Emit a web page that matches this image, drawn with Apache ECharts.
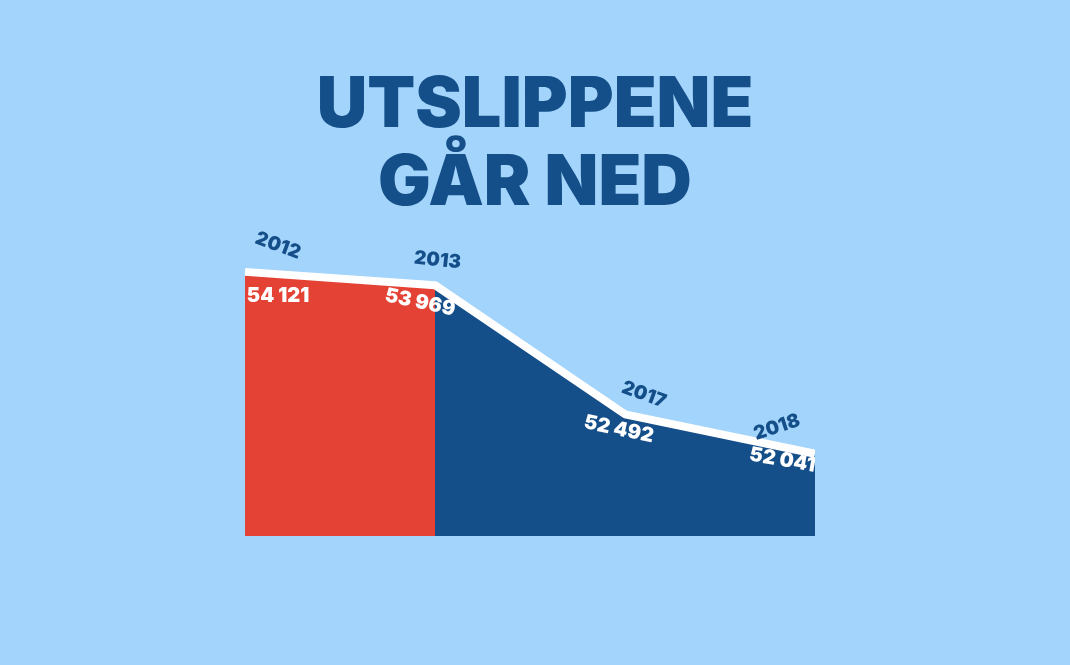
<!DOCTYPE html>
<html><head><meta charset="utf-8">
<script src="https://cdn.jsdelivr.net/npm/echarts@6/dist/echarts.min.js"></script>
<style>html,body{margin:0;padding:0;background:#a3d4fb;}#c{width:1070px;height:665px;}</style>
</head><body><div id="c"></div>
<script>
const years = ['2012', '2013', '2017', '2018'];
const emissions = [54121, 53969, 52492, 52041];
const valueLabels = ['54 121', '53 969', '52 492', '52 041'];
const redUntil = 1; // index where red part ends

// label styling (offsets / rotation), kept separate from data
const yearLabelStyle = [
  {offset: [22, -36], rotate: -20},
  {offset: [0, -25], rotate: -6},
  {offset: [11, -25], rotate: -20},
  {offset: [-28, -37], rotate: 18}
];
const valueLabelStyle = [
  {offset: [33, 24], rotate: 0},
  {offset: [-11, 20], rotate: -12},
  {offset: [-3, 16], rotate: -12},
  {offset: [-31, 12], rotate: -10}
];

const redData = emissions.map((v, i) => i <= redUntil ? v : '-');
const blueData = emissions.map((v, i) => i >= redUntil ? v : '-');

const font = 'Inter, Lato, sans-serif';
const yearPoints = emissions.map((v, i) => ({
  value: v,
  label: {show: true, formatter: years[i], position: 'inside', offset: yearLabelStyle[i].offset,
    rotate: yearLabelStyle[i].rotate, color: '#154f8a', fontSize: 19, fontWeight: 900, fontFamily: font}
}));
const valuePoints = emissions.map((v, i) => ({
  value: v,
  label: {show: true, formatter: valueLabels[i], position: 'inside', offset: valueLabelStyle[i].offset,
    rotate: valueLabelStyle[i].rotate, color: '#ffffff', fontSize: 20, fontWeight: 900, fontFamily: font}
}));

const chart = echarts.init(document.getElementById('c'));
chart.setOption({
  backgroundColor: '#a3d4fb',
  animation: false,
  title: {
    text: 'UTSLIPPENE\nGÅR NED',
    left: 'center', top: 62,
    textStyle: {color: '#154f8a', fontSize: 70, fontWeight: 900, fontFamily: font, lineHeight: 78}
  },
  grid: {left: 245, right: 255, top: 230, bottom: 129},
  xAxis: {type: 'category', data: years, boundaryGap: false, show: false},
  yAxis: {type: 'value', min: 51100, max: 54600, show: false},
  series: [
    {type: 'line', data: redData, symbol: 'none', lineStyle: {width: 0}, areaStyle: {color: '#e54236', opacity: 1}, z: 1},
    {type: 'line', data: blueData, symbol: 'none', lineStyle: {width: 0}, areaStyle: {color: '#154f8a', opacity: 1}, z: 1},
    {type: 'line', data: emissions, symbol: 'none', lineStyle: {width: 8, color: '#ffffff'}, z: 3},
    {type: 'scatter', data: yearPoints, symbolSize: 1, itemStyle: {color: 'transparent', opacity: 1}, z: 4},
    {type: 'scatter', data: valuePoints, symbolSize: 1, itemStyle: {color: 'transparent', opacity: 1}, z: 4}
  ],
  graphic: [
    {type: 'rect', right: 0, top: 430, shape: {width: 255, height: 80}, style: {fill: '#a3d4fb'}, z: 100}
  ]
});
</script></body></html>
